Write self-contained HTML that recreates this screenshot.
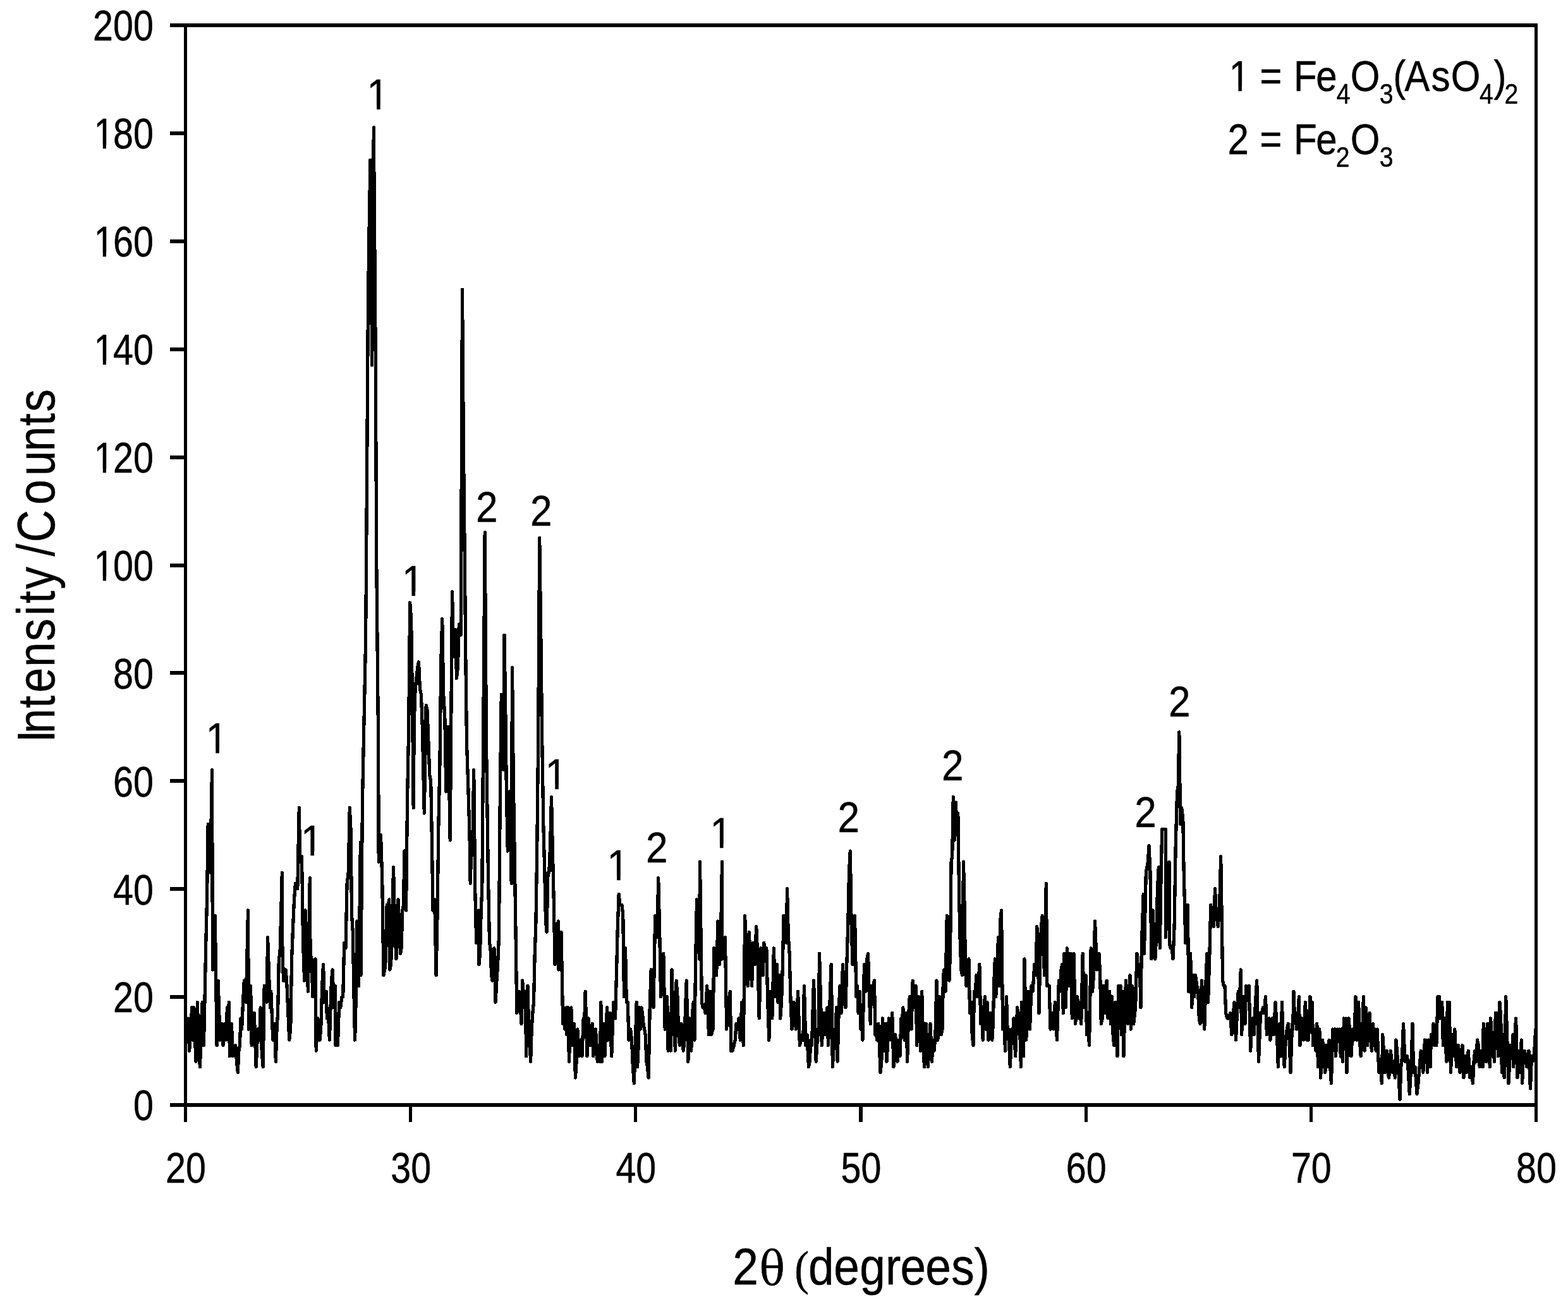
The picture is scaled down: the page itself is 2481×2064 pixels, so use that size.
<!DOCTYPE html><html><head><meta charset="utf-8"><title>XRD</title><style>html,body{margin:0;padding:0;background:#fff}svg{display:block}text{font-family:"Liberation Sans",sans-serif;fill:#000;stroke:#000;stroke-width:0.5px;stroke-linejoin:round}</style></head><body>
<svg width="2481" height="2064" viewBox="0 0 2481 2064">
<rect width="2481" height="2064" fill="#fff"/>
<g stroke="#000" fill="none" stroke-linecap="butt" shape-rendering="crispEdges">
<line x1="268.9" y1="40.00" x2="2433.1" y2="40.00" stroke-width="6"/>
<line x1="268.9" y1="1749.05" x2="2433.1" y2="1749.05" stroke-width="6"/>
<line x1="293.50" y1="37.0" x2="293.50" y2="1776.1" stroke-width="5.1"/>
<line x1="2430.50" y1="37.0" x2="2430.50" y2="1776.1" stroke-width="5.1"/>
<line x1="268.9" y1="1578.14" x2="293.5" y2="1578.14" stroke-width="6"/>
<line x1="268.9" y1="1407.23" x2="293.5" y2="1407.23" stroke-width="6"/>
<line x1="268.9" y1="1236.32" x2="293.5" y2="1236.32" stroke-width="6"/>
<line x1="268.9" y1="1065.41" x2="293.5" y2="1065.41" stroke-width="6"/>
<line x1="268.9" y1="894.50" x2="293.5" y2="894.50" stroke-width="6"/>
<line x1="268.9" y1="723.59" x2="293.5" y2="723.59" stroke-width="6"/>
<line x1="268.9" y1="552.68" x2="293.5" y2="552.68" stroke-width="6"/>
<line x1="268.9" y1="381.77" x2="293.5" y2="381.77" stroke-width="6"/>
<line x1="268.9" y1="210.86" x2="293.5" y2="210.86" stroke-width="6"/>
<line x1="649.67" y1="1749.0" x2="649.67" y2="1776.1" stroke-width="5.1"/>
<line x1="1005.84" y1="1749.0" x2="1005.84" y2="1776.1" stroke-width="5.1"/>
<line x1="1362.01" y1="1749.0" x2="1362.01" y2="1776.1" stroke-width="5.1"/>
<line x1="1718.18" y1="1749.0" x2="1718.18" y2="1776.1" stroke-width="5.1"/>
<line x1="2074.35" y1="1749.0" x2="2074.35" y2="1776.1" stroke-width="5.1"/>
</g>
<polyline shape-rendering="crispEdges" fill="none" stroke="#000" stroke-width="5.3" stroke-linejoin="round" stroke-linecap="round" points="293.8,1611.9 296.0,1637.6 297.6,1611.9 299.6,1663.2 301.6,1637.6 303.6,1594.8 304.9,1646.1 306.9,1594.8 309.9,1680.3 312.4,1586.3 314.4,1663.2 316.5,1688.8 318.4,1620.5 320.2,1586.3 322.4,1654.6 324.1,1577.7 325.8,1492.3 327.5,1423.9 329.2,1304.3 330.9,1338.5 332.7,1381.2 335.5,1218.8 336.5,1535.0 338.4,1517.9 340.3,1449.6 343.1,1654.6 345.1,1552.1 348.1,1646.1 351.1,1620.5 353.1,1654.6 355.6,1620.5 357.7,1646.1 359.4,1594.8 360.7,1603.4 362.4,1586.3 363.4,1671.7 366.4,1620.5 368.5,1671.7 370.6,1663.2 372.7,1654.6 374.5,1680.3 376.3,1697.4 377.9,1663.2 379.4,1654.6 381.0,1611.9 382.6,1629.0 384.5,1586.3 386.3,1552.1 389.3,1586.3 392.5,1441.0 393.4,1629.0 395.0,1603.4 396.6,1560.6 398.2,1654.6 400.2,1611.9 402.2,1603.4 405.2,1688.8 407.9,1629.0 410.5,1646.1 412.2,1594.8 414.2,1663.2 416.2,1688.8 418.2,1560.6 420.1,1569.2 422.1,1586.3 423.6,1483.7 425.6,1543.6 427.5,1594.8 428.8,1569.2 431.8,1646.1 434.9,1620.5 436.3,1680.3 438.0,1629.0 439.6,1603.4 441.3,1517.9 443.0,1509.4 444.6,1449.6 446.3,1381.2 446.7,1492.3 448.5,1552.1 450.4,1552.1 452.2,1535.0 454.0,1560.6 455.9,1603.4 457.7,1646.1 459.7,1629.0 461.6,1517.9 463.6,1466.6 465.5,1423.9 467.5,1398.3 469.1,1406.8 470.8,1406.8 473.3,1278.6 474.7,1364.1 477.5,1355.6 479.6,1492.3 481.6,1552.1 483.3,1441.0 485.4,1509.4 487.4,1569.2 490.3,1389.7 491.0,1509.4 492.9,1517.9 494.9,1577.7 496.9,1543.6 499.0,1517.9 500.2,1663.2 502.8,1611.9 504.5,1620.5 506.2,1646.1 508.0,1620.5 509.7,1560.6 511.5,1526.5 513.5,1586.3 516.1,1569.2 517.4,1611.9 519.4,1603.4 521.4,1646.1 523.0,1594.8 524.5,1552.1 526.1,1535.0 528.4,1594.8 530.4,1560.6 531.1,1654.6 532.7,1629.0 534.4,1654.6 536.7,1586.3 538.7,1594.8 541.0,1577.7 542.7,1577.7 544.7,1492.3 547.0,1500.8 549.1,1398.3 551.2,1381.2 553.3,1278.6 555.0,1312.8 556.6,1449.6 558.3,1475.2 559.9,1569.2 561.6,1646.1 563.3,1577.7 565.0,1458.1 567.6,1560.6 570.4,1333.3 570.9,1543.6 573.5,1266.7 576.5,1116.3 578.6,1013.7 579.6,885.6 582.5,475.4 584.2,355.7 586.0,253.2 588.7,577.9 591.3,201.9 594.2,560.8 595.8,894.1 598.6,1176.1 599.2,1364.1 600.9,1338.5 602.5,1321.4 604.7,1389.7 606.9,1543.6 608.7,1535.0 610.5,1517.9 612.2,1432.5 614.0,1432.5 615.8,1423.9 616.9,1535.0 618.5,1526.5 620.2,1492.3 622.5,1372.6 624.7,1466.6 626.9,1517.9 630.0,1423.9 631.8,1466.6 633.5,1509.4 635.1,1500.8 636.8,1441.0 638.4,1432.5 640.0,1347.0 642.5,1441.0 644.6,1261.6 646.6,1159.0 648.7,953.9 650.6,979.6 652.5,1107.7 654.2,1278.6 655.3,1141.9 657.1,1090.6 658.9,1073.6 660.7,1056.5 662.5,1047.9 664.4,1090.6 666.4,1099.2 668.3,1150.5 671.3,1287.2 674.2,1116.3 676.1,1124.8 678.0,1176.1 679.8,1227.4 681.7,1235.9 683.4,1329.9 685.0,1441.0 687.7,1423.9 690.1,1543.6 692.0,1449.6 693.9,1304.3 695.9,1210.3 697.8,1047.9 699.7,979.6 701.7,1099.2 703.8,1133.4 705.8,1253.0 707.5,1184.6 709.2,1150.5 712.2,1329.9 713.9,1124.8 715.5,936.8 717.2,1013.7 719.0,1039.4 720.8,996.6 722.5,1073.6 724.4,1056.5 726.3,988.1 729.2,1005.2 731.5,458.3 733.4,706.1 735.3,885.6 736.9,1047.9 738.5,1176.1 740.8,1244.5 743.0,1321.4 744.2,1398.3 746.0,1338.5 747.9,1329.9 749.7,1218.8 751.7,1406.8 753.7,1492.3 755.6,1466.6 757.5,1441.0 757.9,1526.5 759.5,1509.4 761.2,1441.0 762.8,1406.8 764.6,1176.1 767.2,842.8 769.5,1176.1 772.5,1389.7 774.5,1492.3 776.0,1500.8 777.6,1543.6 779.1,1552.1 781.9,1500.8 784.1,1586.3 785.9,1552.1 787.6,1526.5 789.4,1483.7 791.3,1261.6 793.3,1099.2 795.0,1116.3 796.7,1218.8 798.0,1005.2 799.8,1124.8 801.5,1261.6 803.3,1347.0 806.0,1253.0 807.6,1287.2 809.2,1398.3 810.5,1056.5 812.3,1235.9 814.1,1347.0 816.0,1475.2 817.8,1603.4 819.5,1594.8 821.3,1569.2 823.1,1586.3 824.9,1620.5 826.6,1552.1 828.2,1569.2 829.9,1594.8 831.3,1569.2 832.6,1671.7 834.9,1560.6 836.5,1620.5 838.0,1646.1 839.6,1680.3 841.2,1629.0 842.9,1603.4 844.5,1586.3 846.2,1509.4 847.8,1466.6 849.7,1347.0 851.6,1176.1 853.7,851.4 855.8,1005.2 857.8,1176.1 859.8,1304.3 861.8,1381.2 863.5,1458.1 865.1,1475.2 867.0,1381.2 868.8,1381.2 870.6,1338.5 872.5,1261.6 874.4,1347.0 876.2,1423.9 878.1,1526.5 880.7,1483.7 883.3,1458.1 883.9,1535.0 886.0,1492.3 888.0,1475.2 890.7,1620.5 893.0,1603.4 894.0,1629.0 895.7,1594.8 897.0,1637.6 898.7,1594.8 900.5,1680.3 902.1,1620.5 903.8,1594.8 906.0,1654.6 908.3,1620.5 910.4,1705.9 912.1,1680.3 913.8,1629.0 916.3,1671.7 918.3,1646.1 920.9,1671.7 923.2,1611.9 924.6,1620.5 926.2,1569.2 928.9,1671.7 931.2,1611.9 933.9,1654.6 935.5,1637.6 937.2,1620.5 938.8,1671.7 940.6,1654.6 942.5,1629.0 945.3,1680.3 948.1,1654.6 949.5,1680.3 950.8,1586.3 952.5,1680.3 954.8,1620.5 956.9,1671.7 958.8,1629.0 960.6,1594.8 962.1,1646.1 965.2,1603.4 967.7,1671.7 970.7,1586.3 973.5,1611.9 975.4,1543.6 977.3,1466.6 979.2,1415.4 980.9,1432.5 982.5,1432.5 984.1,1432.5 985.8,1449.6 987.5,1577.7 989.5,1500.8 991.3,1586.3 993.2,1586.3 995.0,1646.1 997.6,1629.0 999.5,1646.1 1001.4,1688.8 1003.3,1714.5 1005.2,1654.6 1007.2,1586.3 1008.6,1688.8 1010.2,1654.6 1011.9,1594.8 1013.2,1629.0 1014.9,1594.8 1016.5,1603.4 1018.0,1620.5 1019.6,1629.0 1021.2,1637.6 1022.9,1680.3 1024.5,1688.8 1026.2,1705.9 1028.2,1594.8 1030.2,1535.0 1032.1,1552.1 1034.0,1594.8 1036.7,1449.6 1037.8,1483.7 1039.8,1483.7 1041.7,1389.7 1043.7,1475.2 1045.6,1577.7 1047.7,1517.9 1049.8,1509.4 1052.2,1629.0 1053.9,1620.5 1055.6,1577.7 1057.2,1663.2 1059.4,1629.0 1061.4,1663.2 1063.0,1535.0 1065.7,1637.6 1066.7,1586.3 1068.3,1663.2 1070.2,1552.1 1072.0,1577.7 1073.7,1637.6 1075.5,1654.6 1078.0,1620.5 1079.7,1646.1 1081.3,1663.2 1083.0,1646.1 1084.6,1594.8 1086.3,1552.1 1088.8,1680.3 1090.9,1611.9 1093.7,1663.2 1095.5,1603.4 1097.2,1586.3 1098.9,1646.1 1100.7,1517.9 1102.5,1423.9 1104.5,1441.0 1106.5,1517.9 1107.5,1364.1 1110.4,1586.3 1112.3,1594.8 1114.3,1594.8 1116.2,1603.4 1118.7,1560.6 1121.5,1637.6 1123.8,1569.2 1125.5,1637.6 1128.1,1629.0 1129.8,1500.8 1131.7,1509.4 1133.6,1543.6 1136.0,1458.1 1138.6,1526.5 1140.5,1483.7 1142.5,1364.1 1142.7,1517.9 1144.3,1509.4 1145.8,1509.4 1147.4,1483.7 1149.7,1629.0 1151.5,1586.3 1153.4,1603.4 1155.2,1569.2 1156.8,1663.2 1159.0,1663.2 1161.3,1654.6 1163.2,1646.1 1165.0,1620.5 1167.0,1629.0 1169.1,1611.9 1171.3,1646.1 1173.9,1586.3 1176.3,1654.6 1178.7,1449.6 1181.0,1535.0 1183.2,1560.6 1185.2,1475.2 1187.4,1517.9 1189.6,1560.6 1191.9,1492.3 1194.2,1526.5 1196.7,1466.6 1199.0,1517.9 1201.2,1611.9 1204.0,1500.8 1205.7,1535.0 1207.3,1543.6 1208.8,1492.3 1210.8,1509.4 1212.8,1500.8 1214.8,1586.3 1216.8,1646.1 1219.1,1569.2 1221.8,1611.9 1224.4,1500.8 1226.4,1577.7 1229.4,1526.5 1231.1,1586.3 1233.1,1543.6 1234.7,1611.9 1236.5,1586.3 1238.2,1535.0 1240.0,1449.6 1242.1,1483.7 1244.2,1492.3 1245.5,1406.8 1247.4,1483.7 1249.2,1509.4 1251.1,1586.3 1253.0,1629.0 1256.0,1586.3 1257.7,1594.8 1259.3,1629.0 1260.9,1611.9 1262.6,1569.2 1265.4,1654.6 1267.5,1646.1 1269.6,1637.6 1270.9,1646.1 1272.4,1560.6 1274.9,1654.6 1276.9,1637.6 1279.5,1688.8 1281.2,1680.3 1282.9,1646.1 1284.5,1654.6 1287.5,1552.1 1289.3,1611.9 1291.2,1680.3 1294.2,1629.0 1295.1,1637.6 1296.5,1509.4 1298.4,1577.7 1300.3,1654.6 1302.3,1620.5 1304.4,1603.4 1306.1,1637.6 1309.1,1594.8 1310.4,1654.6 1312.0,1620.5 1313.6,1569.2 1315.2,1526.5 1317.4,1688.8 1320.2,1637.6 1321.4,1646.1 1323.5,1594.8 1325.2,1680.3 1327.1,1603.4 1329.0,1560.6 1331.0,1603.4 1333.5,1526.5 1335.8,1586.3 1338.0,1594.8 1339.8,1526.5 1341.7,1466.6 1343.5,1381.2 1345.3,1347.0 1347.2,1466.6 1349.1,1526.5 1350.8,1492.3 1352.5,1449.6 1354.9,1577.7 1356.6,1560.6 1358.2,1603.4 1360.2,1569.2 1361.8,1629.0 1363.3,1611.9 1364.9,1646.1 1367.5,1526.5 1370.2,1569.2 1371.8,1517.9 1373.5,1509.4 1375.4,1577.7 1377.3,1620.5 1378.5,1560.6 1379.8,1577.7 1381.7,1560.6 1383.5,1552.1 1384.8,1637.6 1386.1,1629.0 1387.5,1646.1 1389.8,1620.5 1391.4,1654.6 1393.1,1697.4 1394.8,1680.3 1396.4,1611.9 1398.9,1663.2 1401.1,1620.5 1403.1,1680.3 1404.8,1646.1 1406.4,1611.9 1408.4,1646.1 1410.1,1637.6 1411.7,1603.4 1413.9,1688.8 1416.7,1637.6 1418.3,1671.7 1420.0,1680.3 1422.0,1646.1 1424.0,1671.7 1426.0,1611.9 1427.3,1620.5 1428.8,1594.8 1431.3,1646.1 1434.0,1603.4 1435.6,1680.3 1437.4,1611.9 1439.3,1577.7 1442.1,1629.0 1444.2,1552.1 1446.2,1594.8 1449.2,1560.6 1450.7,1654.6 1453.7,1577.7 1456.7,1663.2 1458.7,1569.2 1460.6,1646.1 1462.5,1688.8 1465.2,1620.5 1468.3,1688.8 1470.2,1654.6 1472.1,1620.5 1474.5,1680.3 1476.1,1646.1 1478.1,1663.2 1480.0,1637.6 1481.9,1552.1 1483.8,1646.1 1486.9,1577.7 1489.4,1637.6 1491.0,1629.0 1492.5,1543.6 1494.1,1535.0 1496.0,1569.2 1498.3,1449.6 1500.1,1535.0 1501.9,1552.1 1503.5,1509.4 1505.1,1364.1 1506.7,1355.6 1508.3,1261.6 1510.3,1329.9 1512.5,1270.1 1514.0,1321.4 1515.8,1287.2 1517.7,1423.9 1519.3,1492.3 1520.9,1535.0 1522.5,1543.6 1524.5,1364.1 1526.0,1432.5 1527.6,1535.0 1529.1,1560.6 1531.0,1552.1 1532.9,1517.9 1534.6,1603.4 1536.6,1586.3 1538.2,1637.6 1539.9,1654.6 1541.5,1569.2 1542.9,1577.7 1544.9,1543.6 1546.9,1577.7 1549.8,1526.5 1551.8,1620.5 1553.5,1603.4 1555.2,1646.1 1556.8,1594.8 1558.5,1577.7 1560.1,1629.0 1562.1,1586.3 1564.0,1646.1 1566.8,1603.4 1569.8,1646.1 1571.3,1620.5 1572.9,1552.1 1574.4,1517.9 1575.7,1577.7 1577.6,1552.1 1579.4,1483.7 1580.7,1560.6 1582.6,1458.1 1584.5,1441.0 1586.7,1629.0 1588.7,1611.9 1590.5,1663.2 1592.5,1577.7 1594.3,1637.6 1595.7,1629.0 1598.3,1688.8 1601.0,1629.0 1602.3,1646.1 1604.0,1611.9 1606.6,1671.7 1609.6,1594.8 1611.6,1611.9 1612.9,1603.4 1615.4,1688.8 1616.6,1586.3 1619.6,1671.7 1620.9,1517.9 1623.7,1646.1 1626.6,1569.2 1629.5,1629.0 1632.0,1560.6 1634.2,1569.2 1636.8,1526.5 1638.8,1543.6 1640.8,1466.6 1642.4,1500.8 1644.0,1603.4 1645.7,1517.9 1647.5,1466.6 1649.2,1449.6 1650.8,1492.3 1652.5,1543.6 1655.3,1398.3 1656.9,1560.6 1660.1,1560.6 1662.1,1629.0 1664.4,1603.4 1666.7,1629.0 1669.4,1586.3 1672.4,1646.1 1675.4,1552.1 1677.4,1569.2 1679.1,1535.0 1680.7,1526.5 1682.3,1603.4 1684.0,1509.4 1686.3,1594.8 1688.3,1500.8 1689.9,1517.9 1691.6,1560.6 1694.1,1509.4 1696.3,1611.9 1698.9,1509.4 1701.6,1620.5 1704.6,1577.7 1707.4,1611.9 1709.1,1586.3 1710.7,1620.5 1713.2,1509.4 1715.2,1594.8 1717.9,1543.6 1719.5,1637.6 1721.5,1620.5 1723.5,1654.6 1726.2,1500.8 1728.5,1569.2 1730.5,1543.6 1732.5,1458.1 1735.6,1535.0 1737.3,1517.9 1739.0,1509.4 1740.7,1543.6 1742.3,1620.5 1744.2,1611.9 1746.1,1560.6 1748.1,1603.4 1751.1,1552.1 1753.1,1611.9 1755.7,1569.2 1757.4,1620.5 1759.4,1577.7 1761.1,1637.6 1762.7,1654.6 1764.7,1586.3 1766.3,1611.9 1768.0,1671.7 1770.0,1560.6 1771.7,1577.7 1773.0,1560.6 1774.3,1637.6 1776.0,1569.2 1778.0,1671.7 1779.8,1594.8 1781.6,1552.1 1784.6,1620.5 1786.2,1577.7 1787.9,1543.6 1789.3,1629.0 1791.8,1560.6 1793.7,1620.5 1796.6,1594.8 1798.9,1509.4 1800.6,1535.0 1802.2,1543.6 1803.5,1535.0 1804.9,1594.8 1806.5,1492.3 1809.2,1415.4 1810.4,1509.4 1813.3,1381.2 1814.9,1372.6 1816.4,1364.1 1818.0,1338.5 1820.0,1381.2 1822.0,1517.9 1824.2,1441.0 1826.0,1500.8 1827.8,1517.9 1829.6,1483.7 1831.5,1406.8 1833.3,1372.6 1835.3,1500.8 1837.0,1389.7 1838.7,1312.8 1841.3,1312.8 1844.2,1312.8 1844.4,1483.7 1846.3,1441.0 1848.1,1389.7 1850.0,1364.1 1850.2,1492.3 1852.1,1500.8 1854.1,1500.8 1856.0,1517.9 1858.1,1466.6 1860.2,1338.5 1862.6,1253.0 1864.2,1244.5 1865.8,1159.0 1867.7,1304.3 1869.7,1278.6 1871.8,1295.7 1873.0,1372.6 1874.3,1423.9 1875.8,1492.3 1877.5,1441.0 1879.3,1432.5 1880.8,1569.2 1883.6,1509.4 1885.7,1594.8 1887.9,1543.6 1889.6,1577.7 1891.5,1543.6 1894.0,1560.6 1895.7,1569.2 1897.3,1611.9 1899.0,1620.5 1901.5,1552.1 1903.6,1594.8 1905.7,1629.0 1907.8,1560.6 1909.8,1509.4 1911.5,1586.3 1913.7,1517.9 1915.8,1432.5 1917.4,1458.1 1919.0,1458.1 1920.6,1466.6 1922.5,1406.8 1924.1,1441.0 1925.6,1441.0 1927.2,1466.6 1929.5,1441.0 1931.7,1355.6 1934.7,1552.1 1936.4,1560.6 1938.0,1560.6 1939.7,1603.4 1941.8,1611.9 1943.8,1611.9 1946.7,1603.4 1948.8,1637.6 1950.9,1611.9 1953.0,1586.3 1955.5,1646.1 1957.4,1603.4 1959.3,1569.2 1960.9,1594.8 1963.3,1535.0 1964.6,1637.6 1967.6,1577.7 1969.9,1620.5 1971.6,1560.6 1973.9,1569.2 1976.2,1560.6 1978.7,1663.2 1980.3,1620.5 1982.0,1611.9 1984.2,1637.6 1986.5,1586.3 1988.7,1552.1 1991.5,1680.3 1994.5,1603.4 1996.5,1603.4 1998.6,1594.8 2000.1,1603.4 2002.5,1577.7 2004.4,1637.6 2006.1,1620.5 2007.8,1611.9 2009.9,1646.1 2013.1,1611.9 2015.2,1637.6 2018.1,1586.3 2020.2,1629.0 2022.4,1688.8 2024.7,1620.5 2026.5,1671.7 2028.5,1586.3 2030.4,1663.2 2032.3,1688.8 2034.3,1646.1 2036.3,1629.0 2038.3,1620.5 2040.2,1646.1 2042.0,1697.4 2044.6,1620.5 2045.6,1629.0 2047.0,1569.2 2048.5,1611.9 2050.1,1603.4 2051.6,1629.0 2053.4,1620.5 2055.3,1577.7 2056.9,1654.6 2059.9,1611.9 2062.4,1646.1 2065.4,1586.3 2067.9,1646.1 2069.2,1603.4 2070.5,1646.1 2072.9,1577.7 2074.8,1594.8 2076.2,1586.3 2077.5,1654.6 2079.5,1629.0 2081.8,1663.2 2083.8,1620.5 2085.6,1688.8 2087.8,1629.0 2089.5,1705.9 2091.2,1680.3 2092.8,1646.1 2094.1,1688.8 2095.4,1654.6 2096.8,1697.4 2098.8,1654.6 2100.6,1688.8 2103.1,1646.1 2104.8,1688.8 2106.4,1714.5 2108.9,1629.0 2111.0,1646.1 2112.0,1629.0 2113.4,1671.7 2116.4,1629.0 2118.0,1646.1 2119.7,1629.0 2121.3,1671.7 2122.7,1629.0 2124.3,1680.3 2126.6,1611.9 2128.6,1629.0 2129.6,1611.9 2131.0,1697.4 2134.1,1611.9 2136.0,1637.6 2137.9,1671.7 2140.4,1629.0 2142.6,1646.1 2145.1,1577.7 2147.2,1646.1 2149.6,1586.3 2151.4,1646.1 2153.2,1671.7 2155.3,1646.1 2157.4,1577.7 2159.2,1663.2 2161.2,1594.8 2163.7,1654.6 2165.3,1611.9 2167.0,1603.4 2168.8,1646.1 2170.5,1663.2 2172.5,1620.5 2174.1,1654.6 2175.5,1629.0 2177.1,1663.2 2179.1,1629.0 2181.8,1697.4 2183.8,1680.3 2186.4,1714.5 2187.7,1637.6 2189.4,1663.2 2191.1,1697.4 2194.1,1663.2 2195.9,1697.4 2197.7,1705.9 2200.4,1663.2 2203.5,1697.4 2205.0,1680.3 2207.3,1705.9 2209.0,1646.1 2211.0,1671.7 2213.0,1697.4 2215.0,1740.1 2216.8,1688.8 2218.7,1671.7 2220.5,1620.5 2223.0,1680.3 2224.8,1680.3 2226.6,1671.7 2228.4,1697.4 2230.3,1731.6 2231.8,1705.9 2233.4,1671.7 2234.9,1620.5 2236.6,1697.4 2239.1,1688.8 2241.9,1731.6 2244.0,1714.5 2246.1,1688.8 2248.2,1663.2 2250.0,1671.7 2251.8,1697.4 2254.5,1646.1 2256.2,1680.3 2257.2,1646.1 2258.5,1697.4 2260.5,1646.1 2263.1,1688.8 2264.5,1637.6 2266.5,1646.1 2268.1,1620.5 2269.8,1654.6 2271.1,1637.6 2272.8,1654.6 2275.1,1577.7 2277.1,1577.7 2278.7,1611.9 2281.7,1586.3 2283.4,1654.6 2285.7,1611.9 2287.3,1654.6 2288.9,1680.3 2290.4,1586.3 2293.0,1586.3 2295.5,1697.4 2297.7,1637.6 2299.7,1671.7 2301.8,1629.0 2304.6,1688.8 2307.6,1654.6 2310.0,1697.4 2312.6,1680.3 2313.9,1654.6 2315.9,1705.9 2318.3,1671.7 2320.4,1697.4 2323.2,1663.2 2325.9,1705.9 2328.2,1688.8 2330.4,1714.5 2332.1,1680.3 2333.7,1663.2 2335.5,1680.3 2337.5,1646.1 2339.3,1654.6 2341.2,1688.8 2343.7,1663.2 2346.1,1688.8 2347.3,1620.5 2349.1,1646.1 2350.5,1629.0 2351.5,1680.3 2353.8,1620.5 2355.6,1637.6 2357.3,1688.8 2358.6,1611.9 2360.2,1637.6 2361.9,1671.7 2363.1,1654.6 2364.4,1680.3 2366.4,1603.4 2368.7,1603.4 2370.4,1671.7 2373.0,1586.3 2374.7,1611.9 2376.4,1697.4 2378.0,1637.6 2380.2,1705.9 2382.7,1577.7 2384.8,1646.1 2387.0,1714.5 2388.7,1680.3 2390.3,1654.6 2392.0,1671.7 2394.0,1637.6 2394.7,1688.8 2396.6,1646.1 2398.6,1611.9 2401.0,1705.9 2403.3,1663.2 2405.0,1697.4 2407.3,1646.1 2408.6,1714.5 2410.4,1671.7 2412.3,1663.2 2413.9,1671.7 2415.6,1688.8 2417.2,1671.7 2418.9,1663.2 2421.4,1723.0 2423.5,1671.7 2425.2,1680.3 2427.4,1671.7 2429.7,1629.0"/>
<defs><clipPath id="c1"><path clip-rule="evenodd" d="M-5000 -5000H5000V5000H-5000ZM180.46 -6.21H195.68V2.07H180.46ZM201.89 -6.21H217.03V2.07H201.89Z"/></clipPath><clipPath id="c2"><path clip-rule="evenodd" d="M-5000 -5000H5000V5000H-5000ZM180.46 -6.21H195.68V2.07H180.46ZM201.89 -6.21H217.03V2.07H201.89Z"/></clipPath><clipPath id="c3"><path clip-rule="evenodd" d="M-5000 -5000H5000V5000H-5000ZM180.46 -6.21H195.68V2.07H180.46ZM201.89 -6.21H217.03V2.07H201.89Z"/></clipPath><clipPath id="c4"><path clip-rule="evenodd" d="M-5000 -5000H5000V5000H-5000ZM180.46 -6.21H195.68V2.07H180.46ZM201.89 -6.21H217.03V2.07H201.89Z"/></clipPath><clipPath id="c5"><path clip-rule="evenodd" d="M-5000 -5000H5000V5000H-5000ZM180.46 -6.21H195.68V2.07H180.46ZM201.89 -6.21H217.03V2.07H201.89Z"/></clipPath><clipPath id="c6"><path clip-rule="evenodd" d="M-5000 -5000H5000V5000H-5000ZM363.98 -6.21H379.20V2.07H363.98ZM385.41 -6.21H400.55V2.07H385.41Z"/></clipPath><clipPath id="c7"><path clip-rule="evenodd" d="M-5000 -5000H5000V5000H-5000ZM530.87 -6.21H546.09V2.07H530.87ZM552.30 -6.21H567.44V2.07H552.30Z"/></clipPath><clipPath id="c8"><path clip-rule="evenodd" d="M-5000 -5000H5000V5000H-5000ZM647.09 -6.21H662.31V2.07H647.09ZM668.52 -6.21H683.66V2.07H668.52Z"/></clipPath><clipPath id="c9"><path clip-rule="evenodd" d="M-5000 -5000H5000V5000H-5000ZM708.65 -6.21H723.86V2.07H708.65ZM730.07 -6.21H745.22V2.07H730.07Z"/></clipPath><clipPath id="c10"><path clip-rule="evenodd" d="M-5000 -5000H5000V5000H-5000ZM960.65 -6.21H975.86V2.07H960.65ZM982.07 -6.21H997.22V2.07H982.07Z"/></clipPath><clipPath id="c11"><path clip-rule="evenodd" d="M-5000 -5000H5000V5000H-5000ZM1069.32 -6.21H1084.53V2.07H1069.32ZM1090.74 -6.21H1105.89V2.07H1090.74Z"/></clipPath><clipPath id="c12"><path clip-rule="evenodd" d="M-5000 -5000H5000V5000H-5000ZM1250.32 -6.21H1265.53V2.07H1250.32ZM1271.74 -6.21H1286.89V2.07H1271.74Z"/></clipPath><clipPath id="c13"><path clip-rule="evenodd" d="M-5000 -5000H5000V5000H-5000ZM2237.01 -6.21H2252.22V2.07H2237.01ZM2258.43 -6.21H2273.58V2.07H2258.43Z"/></clipPath></defs>
<text transform="translate(0,1773.35) scale(0.8320,1)" x="253.46" y="0" font-size="69">0</text>
<text transform="translate(0,1602.44) scale(0.8320,1)" x="215.10 253.46" y="0" font-size="69">20</text>
<text transform="translate(0,1431.53) scale(0.8320,1)" x="215.10 253.46" y="0" font-size="69">40</text>
<text transform="translate(0,1260.62) scale(0.8320,1)" x="215.10 253.46" y="0" font-size="69">60</text>
<text transform="translate(0,1089.71) scale(0.8320,1)" x="215.10 253.46" y="0" font-size="69">80</text>
<text transform="translate(0,918.80) scale(0.8320,1)" x="178.39 215.10 253.46" y="0" font-size="69" clip-path="url(#c1)">100</text>
<text transform="translate(0,747.89) scale(0.8320,1)" x="178.39 215.10 253.46" y="0" font-size="69" clip-path="url(#c2)">120</text>
<text transform="translate(0,576.98) scale(0.8320,1)" x="178.39 215.10 253.46" y="0" font-size="69" clip-path="url(#c3)">140</text>
<text transform="translate(0,406.07) scale(0.8320,1)" x="178.39 215.10 253.46" y="0" font-size="69" clip-path="url(#c4)">160</text>
<text transform="translate(0,235.16) scale(0.8320,1)" x="178.39 215.10 253.46" y="0" font-size="69" clip-path="url(#c5)">180</text>
<text transform="translate(0,64.25) scale(0.8320,1)" x="176.73 215.10 253.46" y="0" font-size="69">200</text>
<text transform="translate(0,1872.00) scale(0.8320,1)" x="315.00 353.37" y="0" font-size="69">20</text>
<text transform="translate(0,1872.00) scale(0.8320,1)" x="743.09 781.45" y="0" font-size="69">30</text>
<text transform="translate(0,1872.00) scale(0.8320,1)" x="1171.18 1209.54" y="0" font-size="69">40</text>
<text transform="translate(0,1872.00) scale(0.8320,1)" x="1599.27 1637.63" y="0" font-size="69">50</text>
<text transform="translate(0,1872.00) scale(0.8320,1)" x="2027.36 2065.72" y="0" font-size="69">60</text>
<text transform="translate(0,1872.00) scale(0.8320,1)" x="2455.45 2493.81" y="0" font-size="69">70</text>
<text transform="translate(0,1872.00) scale(0.8320,1)" x="2883.54 2921.90" y="0" font-size="69">80</text>
<text transform="translate(0,1191.70) scale(0.9000,1)" x="361.91" y="0" font-size="69" clip-path="url(#c6)">1</text>
<text transform="translate(0,1353.80) scale(0.9000,1)" x="528.80" y="0" font-size="69" clip-path="url(#c7)">1</text>
<text transform="translate(0,172.80) scale(0.9000,1)" x="645.02" y="0" font-size="69" clip-path="url(#c8)">1</text>
<text transform="translate(0,942.80) scale(0.9000,1)" x="706.58" y="0" font-size="69" clip-path="url(#c9)">1</text>
<text transform="translate(0,825.80) scale(0.9000,1)" x="836.77" y="0" font-size="69">2</text>
<text transform="translate(0,831.70) scale(0.9000,1)" x="932.33" y="0" font-size="69">2</text>
<text transform="translate(0,1248.70) scale(0.9000,1)" x="958.58" y="0" font-size="69" clip-path="url(#c10)">1</text>
<text transform="translate(0,1392.50) scale(0.9000,1)" x="1067.25" y="0" font-size="69" clip-path="url(#c11)">1</text>
<text transform="translate(0,1364.70) scale(0.9000,1)" x="1135.44" y="0" font-size="69">2</text>
<text transform="translate(0,1341.70) scale(0.9000,1)" x="1248.25" y="0" font-size="69" clip-path="url(#c12)">1</text>
<text transform="translate(0,1317.00) scale(0.9000,1)" x="1472.66" y="0" font-size="69">2</text>
<text transform="translate(0,1234.70) scale(0.9000,1)" x="1655.44" y="0" font-size="69">2</text>
<text transform="translate(0,1308.80) scale(0.9000,1)" x="1994.66" y="0" font-size="69">2</text>
<text transform="translate(0,1133.70) scale(0.9000,1)" x="2054.55" y="0" font-size="69">2</text>
<text transform="translate(0,143.80) scale(0.8700,1)" x="2234.94 2273.31 2291.03 2331.33 2352.81 2393.39 2430.83 2455.92 2509.00 2533.62 2554.31 2602.93 2638.79 2690.83 2716.72 2736.14" y="0 0 0 0 0 0 20 0 20 0 0 0 0 20 0 20" font-size="69" clip-path="url(#c13)">1 = Fe<tspan font-size="45">4</tspan>O<tspan font-size="45">3</tspan>(AsO<tspan font-size="45">4</tspan>)<tspan font-size="45">2</tspan></text>
<text transform="translate(0,244.30) scale(0.8700,1)" x="2232.76 2271.13 2291.03 2331.33 2352.81 2393.39 2429.59 2455.92 2509.00" y="0 0 0 0 0 0 20 0 20" font-size="69">2 = Fe<tspan font-size="45">2</tspan>O<tspan font-size="45">3</tspan></text>
<text transform="translate(0,2033.00) scale(0.8900,1)" x="1302.53 1350.29 1395.29 1412.60 1437.19 1482.25 1528.31 1574.24 1600.45 1645.17 1691.23 1731.97" y="0" font-size="82">2<tspan font-family="DejaVu Serif,serif" font-size="75">θ</tspan> <tspan font-family="Liberation Serif,serif" font-size="77">(</tspan>degrees)</text>
<text transform="translate(86.20,0) rotate(-90) scale(0.8550,1)" x="-1374.58 -1358.00 -1310.95 -1282.24 -1234.73 -1186.84 -1139.64 -1116.92 -1090.62 -1049.12 -1029.71 -1003.80 -934.29 -880.83 -835.43 -788.38 -762.28" y="0" font-size="83">Intensity /Counts</text>
</svg></body></html>
